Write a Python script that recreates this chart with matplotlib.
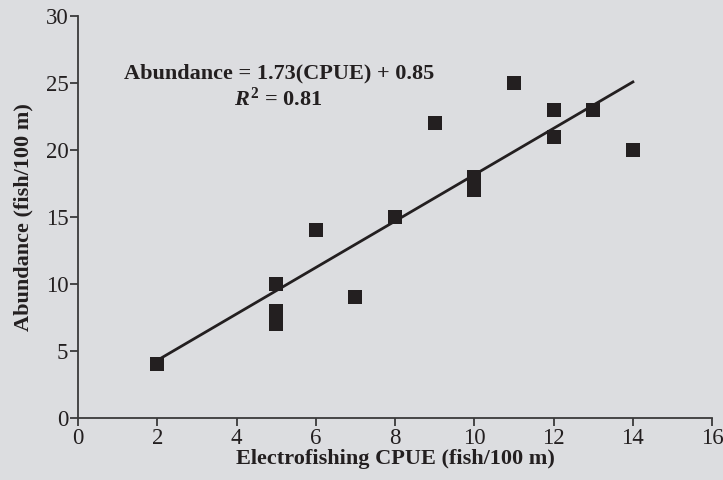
import matplotlib
matplotlib.use("Agg")
import matplotlib.pyplot as plt
import numpy as np

cpue = [2, 5, 5, 5, 6, 7, 8, 9, 10, 10, 11, 12, 12, 13, 14]
abundance = [4, 10, 8, 7, 14, 9, 15, 22, 18, 17, 25, 23, 21, 23, 20]
slope = 1.73
intercept = 0.85
fit_x = [2, 14]
xticks = [0, 2, 4, 6, 8, 10, 12, 14, 16]
yticks = [0, 5, 10, 15, 20, 25, 30]

bg = "#dcdde0"
ink = "#231f20"
plt.rcParams['font.family'] = ['Liberation Serif', 'DejaVu Serif']
plt.rcParams['mathtext.fontset'] = 'custom'
plt.rcParams['mathtext.it'] = 'Liberation Serif:italic:bold'
plt.rcParams['mathtext.rm'] = 'Liberation Serif:bold'

fig = plt.figure(figsize=(7.23, 4.80), dpi=100, facecolor=bg)
ax = fig.add_axes([0.108, 0.129, 0.877, 0.838])
ax.set_facecolor(bg)

fx = np.array(fit_x)
ax.plot(fx, slope * fx + intercept, color=ink, lw=2, zorder=2)
ax.scatter(cpue, abundance, marker='s', s=88, color=ink, zorder=3, linewidths=0)

ax.set_xlim(0, 16)
ax.set_ylim(0, 30)
ax.set_xticks(xticks)
ax.set_yticks(yticks)
for s in ['top', 'right']:
    ax.spines[s].set_visible(False)
for s in ['left', 'bottom']:
    ax.spines[s].set_color('#3a3a3a')
    ax.spines[s].set_linewidth(1.3)
ax.tick_params(direction='out', length=6, width=1.3, color='#3a3a3a',
               labelsize=16.5, labelcolor=ink, pad=1)

ax.set_xlabel("Electrofishing CPUE (fish/100 m)", fontsize=16, fontweight='bold',
              color=ink, labelpad=0)
ax.set_ylabel("Abundance (fish/100 m)", fontsize=16, fontweight='bold',
              color=ink, labelpad=9)

ax.text(5.07, 25.7, "Abundance = 1.73(CPUE) + 0.85", ha='center', va='center',
        fontsize=16, fontweight='bold', color=ink)
ax.text(5.05, 23.8, r"$R^2$ = 0.81", ha='center', va='center',
        fontsize=16, fontweight='bold', color=ink)

fig.savefig("out.png", dpi=100, facecolor=bg)
